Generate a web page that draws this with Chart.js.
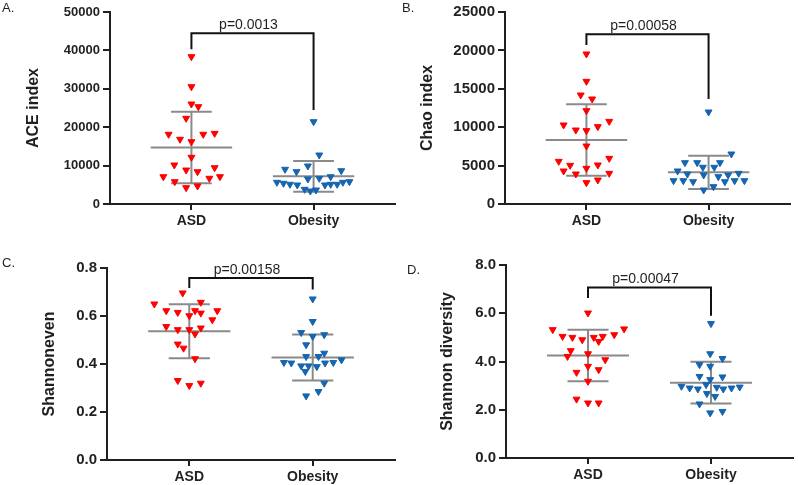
<!DOCTYPE html>
<html>
<head>
<meta charset="utf-8">
<script src="https://cdn.jsdelivr.net/npm/chart.js@4.4.0/dist/chart.umd.min.js"></script>
<style>
  body { margin: 0; background: #fff; font-family: "Liberation Sans", Arial, sans-serif; }
  #wrap { position: relative; width: 798px; height: 485px; overflow: hidden; }
  canvas { position: absolute; }
  .lbl { position: absolute; font-size: 13px; line-height: 1; color: #231f20; }
</style>
</head>
<body>
<div id="wrap">
  <canvas id="cA" width="400" height="240" style="left:0;top:0"></canvas>
  <canvas id="cB" width="398" height="240" style="left:400px;top:0"></canvas>
  <canvas id="cC" width="400" height="245" style="left:0;top:240px"></canvas>
  <canvas id="cD" width="398" height="245" style="left:400px;top:240px"></canvas>
  <div class="lbl" style="left:2px;top:1px">A.</div>
  <div class="lbl" style="left:402px;top:1px">B.</div>
  <div class="lbl" style="left:2px;top:256px">C.</div>
  <div class="lbl" style="left:407px;top:263px">D.</div>
</div>
<script>
const groups = ['ASD', 'Obesity'];
const groupPos = [1, 2.5];

// A. ACE index
const aceAsd = [38360, 30550, 26040, 25340, 22310, 18150, 16850, 16220, 18150, 18400, 12160, 10150, 9450, 8850, 8410, 7110, 6690, 7110, 5810, 4250, 4690];
const aceAsdX = [1, 1, 1, 1.085, 0.935, 0.72, 0.86, 1, 1.145, 1.285, 1, 0.79, 1.285, 0.935, 1.075, 0.655, 1.22, 1.35, 0.795, 0.935, 1.075];
const aceOb = [21430, 12760, 9895, 9036, 8411, 8671, 6510, 6692, 7109, 5651, 5390, 5130, 4948, 4948, 5130, 5130, 5651, 5807, 3828, 3385, 3646];
const aceObX = [2.5, 2.57, 2.43, 2.15, 2.29, 2.84, 2.43, 2.57, 2.71, 2.05, 2.13, 2.21, 2.3, 2.64, 2.71, 2.79, 2.86, 2.94, 2.39, 2.46, 2.53];
const aceMean = [14700, 7200];
const aceSd = [9320, 3990];
const aceBracket = [40280, 44450, 24480];

// B. Chao index
const chaoAsd = [19530, 15970, 14190, 13670, 12150, 10290, 9635, 9548, 10070, 10760, 7550, 5555, 5034, 4643, 5078, 5946, 4297, 3906, 3993, 2778, 3125];
const chaoAsdX = [1, 1, 0.93, 1.07, 1, 0.72, 0.87, 1, 1.14, 1.28, 1, 0.66, 0.8, 1, 1.14, 1.28, 0.72, 0.87, 1.28, 1, 1.14];
const chaoOb = [11980, 6510, 5380, 5380, 4780, 5380, 4780, 4300, 3906, 3776, 3555, 3776, 3993, 3034, 3034, 2904, 2904, 3034, 3034, 1823, 2256];
const chaoObX = [2.5, 2.78, 2.21, 2.36, 2.43, 2.64, 2.57, 2.12, 2.24, 2.44, 2.62, 2.74, 2.87, 2.07, 2.19, 2.31, 2.7, 2.82, 2.94, 2.44, 2.56];
const chaoMean = [8330, 4120];
const chaoSd = [4660, 2170];
const chaoBracket = [20700, 22090, 13670];

// C. Shannoneven
const evenAsd = [0.696, 0.65, 0.657, 0.622, 0.615, 0.601, 0.622, 0.612, 0.622, 0.584, 0.556, 0.543, 0.543, 0.525, 0.55, 0.483, 0.466, 0.422, 0.331, 0.31, 0.32];
const evenAsdX = [0.92, 0.575, 1.14, 0.72, 0.86, 1, 1.07, 1.14, 1.34, 1.28, 0.72, 0.86, 1, 1.07, 1.14, 0.86, 0.93, 1.07, 0.86, 1, 1.14];
const evenOb = [0.671, 0.577, 0.531, 0.515, 0.522, 0.48, 0.431, 0.431, 0.445, 0.406, 0.404, 0.392, 0.392, 0.389, 0.404, 0.406, 0.417, 0.369, 0.32, 0.285, 0.267];
const evenObX = [2.5, 2.5, 2.36, 2.5, 2.64, 2.42, 2.42, 2.57, 2.64, 2.15, 2.24, 2.36, 2.45, 2.55, 2.65, 2.75, 2.85, 2.41, 2.64, 2.57, 2.42];
const evenMean = [0.536, 0.427];
const evenSd = [0.1125, 0.0955];
const evenBracket = [0.717, 0.758, 0.71];

// D. Shannon diversity
const divAsd = [6.01, 5.32, 5.35, 5.04, 5.0, 4.9, 5.0, 4.83, 5.04, 5.11, 4.45, 4.32, 4.21, 4.07, 3.8, 3.55, 3.66, 3.18, 2.44, 2.28, 2.28];
const divAsdX = [1, 0.57, 1.44, 0.69, 0.81, 0.93, 1.07, 1.13, 1.18, 1.32, 0.79, 1, 0.75, 1.21, 1, 0.86, 1.13, 1, 0.86, 1, 1.13];
const divOb = [5.57, 4.32, 4.12, 3.87, 3.8, 3.38, 3.25, 3.36, 2.97, 2.9, 2.86, 3.04, 2.93, 2.86, 2.9, 2.94, 2.67, 2.55, 2.24, 1.87, 1.93];
const divObX = [2.5, 2.49, 2.64, 2.36, 2.49, 2.36, 2.49, 2.64, 2.14, 2.24, 2.34, 2.44, 2.57, 2.65, 2.75, 2.85, 2.45, 2.55, 2.36, 2.49, 2.64];
const divMean = [4.25, 3.12];
const divSd = [1.07, 0.865];
const divBracket = [6.63, 7.07, 5.9];

const RED = '#ff0000';
const BLUE = '#1565b0';
const GRAY = '#8a8a8a';
const AXIS = '#231f20';
const TXT = '#231f20';
const FONT = '"Liberation Sans", Arial, Helvetica, sans-serif';

Chart.defaults.font.family = FONT;

function line(pts, color) {
  return {
    data: pts, showLine: true, borderColor: color, borderWidth: 2,
    pointRadius: 0, pointHoverRadius: 0, tension: 0, order: 2, clip: false
  };
}

function dots(ys, xs, color) {
  return {
    data: ys.map((y, i) => ({ x: xs[i], y: y })),
    pointStyle: 'triangle', rotation: 180, pointRadius: 4, pointHoverRadius: 4,
    backgroundColor: color, borderColor: color, borderWidth: 1, order: 1
  };
}

function panel(id, p) {
  const datasets = [];
  groupPos.forEach((g, i) => {
    const m = p.mean[i], s = p.sd[i];
    datasets.push(line([{ x: g - 0.5, y: m }, { x: g + 0.5, y: m }], GRAY));
    datasets.push(line([{ x: g, y: m - s }, { x: g, y: m + s }], GRAY));
    datasets.push(line([{ x: g - 0.25, y: m + s }, { x: g + 0.25, y: m + s }], GRAY));
    datasets.push(line([{ x: g - 0.25, y: m - s }, { x: g + 0.25, y: m - s }], GRAY));
  });
  datasets.push(line([
    { x: groupPos[0], y: p.bracket[0] }, { x: groupPos[0], y: p.bracket[1] },
    { x: groupPos[1], y: p.bracket[1] }, { x: groupPos[1], y: p.bracket[2] }
  ], '#111'));
  datasets.push(dots(p.asd, p.asdX, RED));
  datasets.push(dots(p.ob, p.obX, BLUE));

  new Chart(document.getElementById(id), {
    type: 'scatter',
    data: { datasets: datasets },
    options: {
      responsive: false,
      animation: false,
      events: [],
      layout: { padding: p.pad },
      plugins: { legend: { display: false }, tooltip: { enabled: false } },
      scales: {
        x: {
          type: 'linear', min: 0, max: 3.5,
          afterBuildTicks: (a) => { a.ticks = groupPos.map(v => ({ value: v })); },
          afterFit: (s) => { s.height = p.xh; },
          ticks: {
            callback: (v) => groups[groupPos.indexOf(v)],
            font: { size: 14, weight: 'bold' }, color: TXT, padding: 3,
            autoSkip: false, maxRotation: 0
          },
          grid: { drawOnChartArea: false, tickLength: 6, color: AXIS, lineWidth: 2 },
          border: { color: AXIS, width: 2 }
        },
        y: {
          min: 0, max: p.yMax,
          afterFit: (s) => { s.width = p.yw; },
          ticks: {
            stepSize: p.step,
            callback: (v) => Number(v).toFixed(p.dec),
            font: { size: p.tickSize, weight: 'bold' }, color: TXT, padding: 3
          },
          grid: { drawOnChartArea: false, tickLength: 7, color: AXIS, lineWidth: 2 },
          border: { color: AXIS, width: 2 },
          title: {
            display: true, text: p.title, color: TXT,
            font: { size: 16, weight: 'bold' }, padding: { top: p.titlePad, bottom: 0 }
          }
        }
      }
    },
    plugins: [{
      id: 'pvalue',
      afterDatasetsDraw(chart) {
        const { ctx, scales } = chart;
        const xm = scales.x.getPixelForValue((groupPos[0] + groupPos[1]) / 2) - 4;
        const yt = scales.y.getPixelForValue(p.bracket[1]) - 4;
        ctx.save();
        ctx.font = '14px ' + FONT;
        ctx.fillStyle = TXT;
        ctx.textAlign = 'center';
        ctx.textBaseline = 'alphabetic';
        ctx.fillText(p.pText, xm, yt);
        ctx.restore();
      }
    }]
  });
}

panel('cA', {
  asd: aceAsd, asdX: aceAsdX, ob: aceOb, obX: aceObX, mean: aceMean, sd: aceSd,
  bracket: aceBracket, pText: 'p=0.0013', title: 'ACE index',
  yMax: 50000, step: 10000, dec: 0, tickSize: 13,
  pad: { top: 12, right: 2, left: 0, bottom: 0 }, yw: 110, xh: 36, titlePad: 24.4
});
panel('cB', {
  asd: chaoAsd, asdX: chaoAsdX, ob: chaoOb, obX: chaoObX, mean: chaoMean, sd: chaoSd,
  bracket: chaoBracket, pText: 'p=0.00058', title: 'Chao index',
  yMax: 25000, step: 5000, dec: 0, tickSize: 15,
  pad: { top: 12, right: 8, left: 0, bottom: 0 }, yw: 105, xh: 36, titlePad: 18.4
});
panel('cC', {
  asd: evenAsd, asdX: evenAsdX, ob: evenOb, obX: evenObX, mean: evenMean, sd: evenSd,
  bracket: evenBracket, pText: 'p=0.00158', title: 'Shannoneven',
  yMax: 0.8, step: 0.2, dec: 1, tickSize: 15,
  pad: { top: 28, right: 2, left: 0, bottom: 0 }, yw: 107, xh: 25, titlePad: 40
});
panel('cD', {
  asd: divAsd, asdX: divAsdX, ob: divOb, obX: divObX, mean: divMean, sd: divSd,
  bracket: divBracket, pText: 'p=0.00047', title: 'Shannon diversity',
  yMax: 8, step: 2, dec: 1, tickSize: 15,
  pad: { top: 25, right: 4, left: 0, bottom: 0 }, yw: 106, xh: 27, titlePad: 38
});
</script>
</body>
</html>
